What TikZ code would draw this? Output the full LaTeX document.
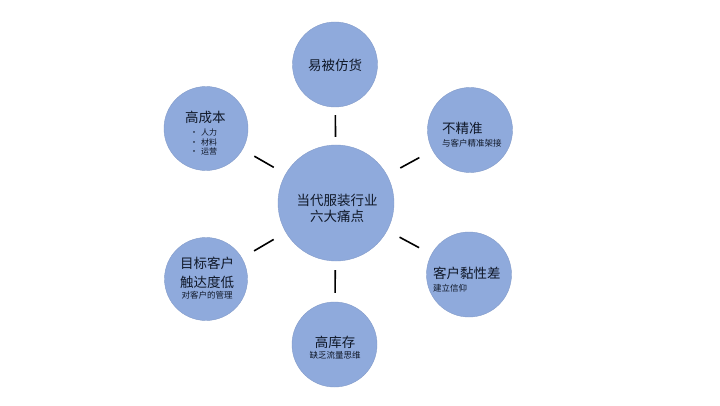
\documentclass[tikz,border=0pt]{standalone}
\usepackage{fontspec}
\setmainfont{Noto Sans CJK SC}
\begin{document}
\begin{tikzpicture}[x=1pt,y=1pt,
  bub/.style={circle,fill=bubfill,draw=bubfill!92!black,line width=0.4pt,inner sep=0pt,minimum size=#1},
  big/.style={font=\fontsize{13.5}{15}\selectfont,text=txt,inner sep=0pt},
  small/.style={font=\fontsize{8.5}{10}\selectfont,text=txt,inner sep=0pt},
  tiny/.style={font=\fontsize{8}{9}\selectfont,text=txt,inner sep=0pt},
  link/.style={line width=1.6pt,black,shorten <=#1pt,shorten >=#1pt}]
\definecolor{bubfill}{HTML}{8FAADC}
\definecolor{txt}{HTML}{101828}
\useasboundingbox (0,0) rectangle (720,405);
\fill[white] (0,0) rectangle (720,405);
% circles
\node[bub=116pt] (c) at (336,202) {};
\node[bub=85pt] (t) at (335,340.5) {};
\node[bub=85pt] (ur) at (470,275) {};
\node[bub=85pt] (lr) at (469,130.5) {};
\node[bub=85pt] (b) at (334.5,60.5) {};
\node[bub=84pt] (ul) at (206,276.5) {};
\node[bub=83pt] (ll) at (206,126) {};
% connectors
\draw[link=8] (c) -- (t);
\draw[link=9] (c) -- (b);
\draw[link=15] (c) -- (ur);
\draw[link=14] (c) -- (lr);
\draw[link=13.5] (c) -- (ul);
\draw[link=14] (c) -- (ll);
% texts
\node[big] (ct1) at (337,205) {当代服装行业};
\node[big] (ct2) at (337,189) {六大痛点};
\node[big] (tt) at (335,340) {易被仿货};
\node[big,anchor=west] (urt) at (442,277) {不精准};
\node[small,anchor=west] (urs) at (442,262) {与客户精准架接};
\node[big,anchor=west] (ult) at (185,288) {高成本};
\node[tiny,anchor=west] (ul1) at (190,273) {•\hspace{3pt}人力};
\node[tiny,anchor=west] (ul2) at (190,263) {•\hspace{3pt}材料};
\node[tiny,anchor=west] (ul3) at (190,254) {•\hspace{3pt}运营};
\node[big] (llt1) at (207,142) {目标客户};
\node[big] (llt2) at (207,123) {触达度低};
\node[small] (lls) at (207,110) {对客户的管理};
\node[big] (bt) at (335,63) {高库存};
\node[small] (bs) at (335,50) {缺乏流量思维};
\node[big,anchor=west] (lrt) at (433,132) {客户黏性差};
\node[small,anchor=west] (lrs) at (433,117) {建立信仰};
\end{tikzpicture}
\end{document}
